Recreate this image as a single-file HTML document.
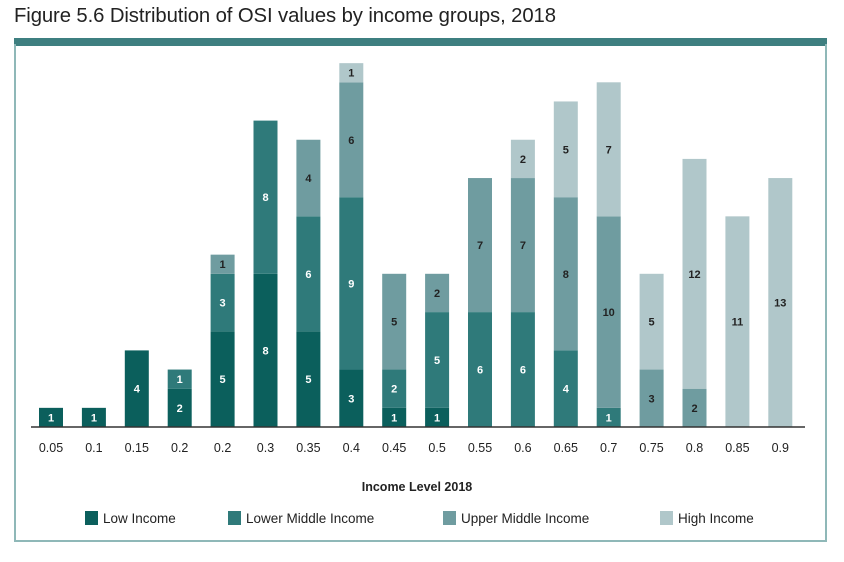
<!DOCTYPE html>
<html><head><meta charset="utf-8"><style>
body{margin:0;background:#fff;width:844px;height:562px;overflow:hidden;font-family:"Liberation Sans",sans-serif}
#t{position:absolute;left:14px;top:5px;font-size:20.3px;color:#222;letter-spacing:-0.1px}
#band{position:absolute;left:14px;top:38px;width:813px;height:8px;background:#3e7f80}
#box{position:absolute;left:14px;top:44px;width:809px;height:496px;border:2px solid #8fb8b8;border-top:none}
svg{position:absolute;left:0;top:0}
</style></head><body>
<div id="t">Figure 5.6 Distribution of OSI values by income groups, 2018</div>
<div id="band"></div>
<div id="box"></div>
<svg id="c" width="844" height="562"></svg>
<script>
const categories=["0.05","0.1","0.15","0.2","0.2","0.3","0.35","0.4","0.45","0.5","0.55","0.6","0.65","0.7","0.75","0.8","0.85","0.9"];
const lowIncome=[1,1,4,2,5,8,5,3,1,1,0,0,0,0,0,0,0,0];
const lowerMiddle=[0,0,0,1,3,8,6,9,2,5,6,6,4,1,0,0,0,0];
const upperMiddle=[0,0,0,0,1,0,4,6,5,2,7,7,8,10,3,2,0,0];
const highIncome=[0,0,0,0,0,0,0,1,0,0,0,2,5,7,5,12,11,13];
const seriesNames=["Low Income","Lower Middle Income","Upper Middle Income","High Income"];
const NS="http://www.w3.org/2000/svg",svg=document.getElementById('c');
const colors=["#0b5f5c","#2f7a7a","#6f9ca0","#b0c7ca"],txt=["#fff","#fff","#222","#222"];
const base=427,unit=19.15,x0=51,step=42.9,bw=24;
const y=v=>base-v*unit, x=i=>x0+i*step;
function mk(t,a){const e=document.createElementNS(NS,t);for(const k in a)e.setAttribute(k,a[k]);svg.appendChild(e);return e;}
const series=[lowIncome,lowerMiddle,upperMiddle,highIncome];
categories.forEach((c,i)=>{
  let cum=0;
  series.forEach((s,k)=>{
    const v=s[i]; if(!v) return;
    const r=mk('rect',{x:x(i)-bw/2,y:y(cum+v),width:bw,height:v*unit,fill:colors[k]});
    
    
    const t=mk('text',{x:x(i),y:y(cum+v/2)+4,'text-anchor':'middle','font-size':11,'font-weight':'bold',fill:txt[k]});
    t.textContent=v;
    
    
    cum+=v;
  });
  const l=mk('text',{x:x(i),y:452,'text-anchor':'middle','font-size':12.5,fill:'#222'});
  l.textContent=c;
  
  
});
const ax=mk('line',{x1:31,x2:805,y1:base,y2:base,stroke:'#333','stroke-width':1.5});


const at=mk('text',{x:417,y:491,'text-anchor':'middle','font-size':12.5,'font-weight':'bold',fill:'#222'});
at.textContent="Income Level 2018";


const lx=[85,228,443,660];
seriesNames.forEach((n,k)=>{
  const r=mk('rect',{x:lx[k],y:511,width:13,height:14,fill:colors[k]});
  
  
  const t=mk('text',{x:lx[k]+18,y:523,'font-size':13.5,fill:'#222'});
  t.textContent=n;
  
  
});
</script>
</body></html>
